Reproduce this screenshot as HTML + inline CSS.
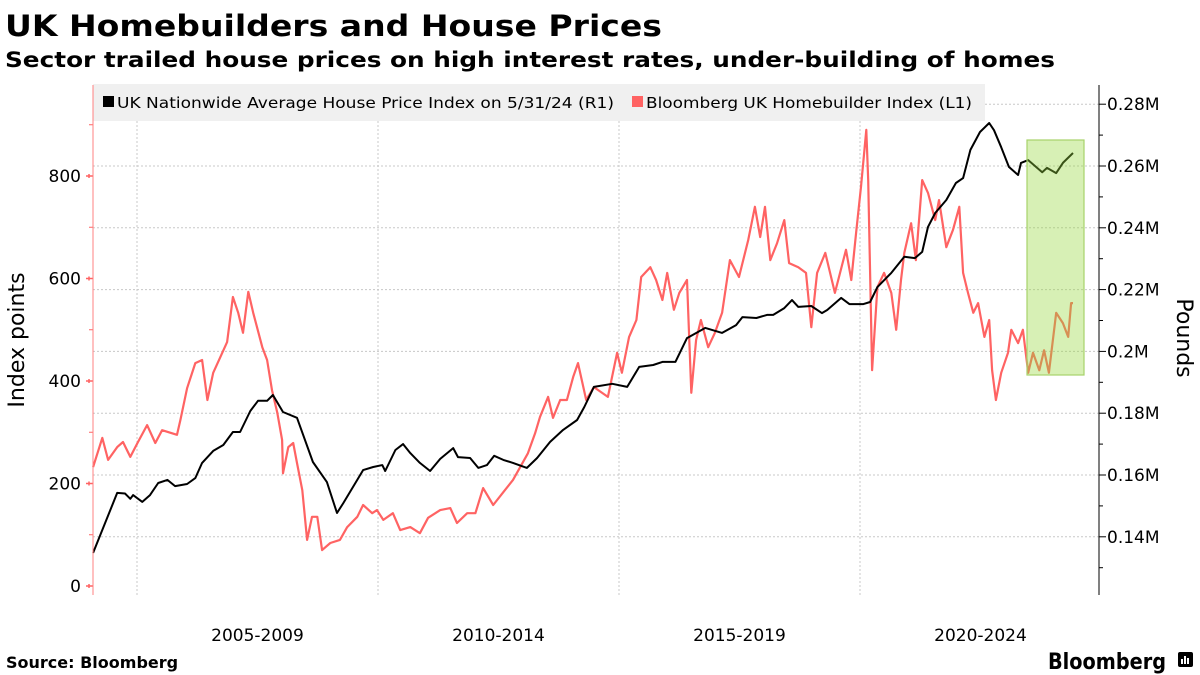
<!DOCTYPE html>
<html><head><meta charset="utf-8"><style>
html,body{margin:0;padding:0;background:#fff;}
svg{display:block;}
text{font-family:"DejaVu Sans","Liberation Sans",sans-serif;}
</style></head><body>
<svg id="chart" width="1200" height="675" xmlns="http://www.w3.org/2000/svg">
<text x="5" y="36" font-size="29" font-weight="bold" textLength="657" lengthAdjust="spacingAndGlyphs">UK Homebuilders and House Prices</text>
<text x="5" y="67" font-size="21" font-weight="bold" textLength="1050" lengthAdjust="spacingAndGlyphs">Sector trailed house prices on high interest rates, under-building of homes</text>
<g id="grid"></g>
<g id="legend">
<rect x="93" y="84" width="892" height="37" fill="#f0f0f0"/>
<rect x="103" y="96" width="11" height="11" fill="#000"/>
<text x="117" y="108" font-size="15" textLength="497" lengthAdjust="spacingAndGlyphs">UK Nationwide Average House Price Index on 5/31/24 (R1)</text>
<rect x="632" y="96" width="11" height="11" fill="#ff6363"/>
<text x="646" y="108" font-size="15" textLength="326" lengthAdjust="spacingAndGlyphs">Bloomberg UK Homebuilder Index (L1)</text>
</g>
<g id="series"></g>
<rect x="1027" y="140" width="57" height="235" fill="rgba(150,215,60,0.38)" stroke="#a6d26a" stroke-width="1.2"/>
<g id="axes"></g>
<text transform="translate(24,340) rotate(-90)" text-anchor="middle" font-size="22">Index points</text>
<text transform="translate(1177,338) rotate(90)" text-anchor="middle" font-size="22">Pounds</text>
<text x="6" y="668" font-size="16" font-weight="bold">Source: Bloomberg</text>
<text x="1048" y="669" font-size="22" font-weight="bold" font-family="Liberation Sans" textLength="118" lengthAdjust="spacingAndGlyphs">Bloomberg</text>
<g>
<rect x="1178" y="652" width="15" height="15" rx="2" fill="#000"/>
<rect x="1181" y="659" width="2" height="5" fill="#fff"/><rect x="1184" y="656" width="2" height="8" fill="#fff"/><rect x="1187" y="658" width="2" height="6" fill="#fff"/>
</g>
</svg>
<script>
const hpYears=[2004.09,2004.59,2004.75,2004.86,2004.92,2005.11,2005.27,2005.44,2005.63,2005.79,2006.04,2006.21,2006.35,2006.58,2006.79,2006.99,2007.14,2007.35,2007.51,2007.70,2007.82,2008.03,2008.32,2008.65,2008.94,2009.15,2009.28,2009.69,2009.90,2010.09,2010.15,2010.36,2010.52,2010.67,2010.87,2011.08,2011.29,2011.56,2011.66,2011.91,2012.08,2012.26,2012.41,2012.60,2012.80,2013.09,2013.30,2013.57,2013.84,2014.13,2014.28,2014.48,2014.86,2015.17,2015.42,2015.71,2015.90,2016.17,2016.41,2016.79,2017.14,2017.43,2017.56,2017.85,2018.07,2018.20,2018.43,2018.59,2018.72,2018.99,2019.21,2019.32,2019.61,2019.78,2020.07,2020.21,2020.36,2020.65,2020.92,2021.14,2021.29,2021.41,2021.56,2021.79,2021.99,2022.14,2022.29,2022.49,2022.68,2022.78,2022.93,2023.09,2023.28,2023.34,2023.49,2023.78,2023.88,2024.07,2024.21,2024.42];
const hpValues=[134800,154200,154000,152300,153500,151300,153500,157400,158400,156400,157100,159000,163900,167800,169700,173900,173900,180700,184000,184000,185900,180400,178500,164200,157700,147700,150900,161600,162600,163200,161300,168100,170000,167100,163900,161300,165200,168700,165800,165500,162300,163200,166200,164900,163900,162300,165500,170700,174600,177800,182000,188500,189500,188500,195000,195600,196600,196600,204300,207600,206000,208500,211100,210800,211800,211800,214000,216600,214400,214700,212400,213400,217300,215300,215300,216000,220800,225400,230600,230200,232200,240300,244800,249000,254500,256100,265200,271000,273900,271600,266100,259700,257100,261000,261900,258000,259400,257700,261000,264200];
const hbYears=[2004.09,2004.28,2004.40,2004.59,2004.71,2004.86,2005.02,2005.21,2005.38,2005.52,2005.83,2005.90,2006.04,2006.21,2006.35,2006.46,2006.58,2006.73,2006.87,2006.99,2007.10,2007.20,2007.31,2007.41,2007.60,2007.70,2007.80,2007.91,2008.01,2008.03,2008.14,2008.24,2008.32,2008.43,2008.53,2008.63,2008.74,2008.84,2009.01,2009.21,2009.36,2009.57,2009.69,2009.88,2009.98,2010.11,2010.31,2010.46,2010.67,2010.87,2011.04,2011.29,2011.50,2011.64,2011.85,2012.02,2012.18,2012.39,2012.60,2012.80,2012.95,2013.11,2013.26,2013.36,2013.53,2013.63,2013.78,2013.92,2014.05,2014.15,2014.32,2014.48,2014.77,2014.96,2015.06,2015.21,2015.36,2015.46,2015.65,2015.77,2015.90,2016.00,2016.14,2016.25,2016.41,2016.50,2016.60,2016.70,2016.85,2016.99,2017.14,2017.30,2017.49,2017.68,2017.82,2017.93,2018.03,2018.14,2018.28,2018.43,2018.53,2018.72,2018.88,2018.99,2019.11,2019.28,2019.48,2019.71,2019.82,2019.92,2020.02,2020.13,2020.17,2020.25,2020.36,2020.50,2020.65,2020.75,2020.85,2020.92,2021.06,2021.16,2021.29,2021.41,2021.56,2021.64,2021.79,2021.93,2022.06,2022.14,2022.24,2022.35,2022.45,2022.58,2022.68,2022.74,2022.82,2022.93,2023.07,2023.14,2023.28,2023.38,2023.49,2023.59,2023.72,2023.82,2023.92,2024.07,2024.21,2024.32,2024.38,2024.42];
const hbValues=[232,289,246,271,281,252,281,314,279,304,295,324,386,435,441,363,416,447,476,564,533,494,574,533,466,441,382,338,285,220,271,279,240,187,90,135,135,70,84,90,115,135,158,142,148,129,142,109,115,103,133,148,152,123,142,142,191,158,183,207,232,259,298,330,369,328,363,363,408,435,363,388,369,455,416,486,519,603,622,597,558,611,539,572,597,377,480,519,466,494,533,636,603,675,740,681,740,636,669,714,630,622,611,505,611,650,572,656,597,689,779,890,792,421,583,611,572,500,597,650,708,636,792,767,714,753,661,695,740,611,572,533,552,486,519,421,363,416,455,500,474,500,416,455,421,460,416,533,513,486,552,552];
const leftTicks=[0,200,400,600,800];
const rightTicks=[140000,160000,180000,200000,220000,240000,260000,280000];
const rightTickLabels=["0.14M","0.16M","0.18M","0.2M","0.22M","0.24M","0.26M","0.28M"];
const xGridYears=[2005,2010,2015,2020];
const xLabels=["2005-2009","2010-2014","2015-2019","2020-2024"];

const NS="http://www.w3.org/2000/svg";
const X0=93,X1=1099,Y0=85,Y1=595;
const xs=y=>137+(y-2005)*48.2;
const yl=v=>586-v*0.5125;
const yr=v=>166-(v-260000)*61.8/20000;
function mk(tag,attrs,parent){const e=document.createElementNS(NS,tag);for(const k in attrs)e.setAttribute(k,attrs[k]);parent.appendChild(e);return e;}
const grid=document.getElementById('grid'),axes=document.getElementById('axes'),series=document.getElementById('series');

rightTicks.forEach((v,i)=>{
 const g=mk('line',{x1:X0,x2:X1,y1:yr(v),y2:yr(v),stroke:'#c8c8c8','stroke-dasharray':'2,2','stroke-width':1},grid);
 
 
 const t=mk('line',{x1:X1,x2:X1+7,y1:yr(v),y2:yr(v),stroke:'#000'},axes);
 
 
 const l=mk('text',{x:X1+8,y:yr(v)+6,'font-size':17},axes);
 l.textContent=rightTickLabels[i];
 
 
 const mv=v-10000;
 const m=mk('line',{x1:X1,x2:X1+4,y1:yr(mv),y2:yr(mv),stroke:'#000'},axes);
 
 
});
xGridYears.forEach((yy,i)=>{
 const g=mk('line',{x1:xs(yy),x2:xs(yy),y1:Y0,y2:Y1,stroke:'#c8c8c8','stroke-dasharray':'2,2'},grid);
 
 
 const l=mk('text',{x:xs(yy+2.5),y:641,'font-size':17,'text-anchor':'middle'},axes);
 l.textContent=xLabels[i];
 
 
});
leftTicks.forEach(v=>{
 const t=mk('path',{d:`M${X0-7},${yl(v)} L${X0},${yl(v)} M${X0-4},${yl(v)-2} L${X0-4},${yl(v)+2}`,stroke:'#ff6363','stroke-width':1.5},axes);
 
 
 const m=mk('line',{x1:X0-4,x2:X0,y1:yl(v+100),y2:yl(v+100),stroke:'#ff6363'},axes);
 
 
 const l=mk('text',{x:X0-12,y:yl(v)+6,'font-size':17,'text-anchor':'end'},axes);
 l.textContent=String(v);
 
 
});
const la=mk('line',{x1:X0,x2:X0,y1:Y0,y2:Y1,stroke:'#ff8080','stroke-width':1},axes);


const ra=mk('line',{x1:X1,x2:X1,y1:Y0,y2:Y1,stroke:'#000','stroke-width':1},axes);



const hb=mk('polyline',{points:hbYears.map((y,i)=>xs(y).toFixed(1)+','+yl(hbValues[i]).toFixed(1)).join(' '),fill:'none',stroke:'#ff6363','stroke-width':2.2,'stroke-linejoin':'round'},series);


const hp=mk('polyline',{points:hpYears.map((y,i)=>xs(y).toFixed(1)+','+yr(hpValues[i]).toFixed(1)).join(' '),fill:'none',stroke:'#000','stroke-width':2,'stroke-linejoin':'round'},series);


</script>
</body></html>
